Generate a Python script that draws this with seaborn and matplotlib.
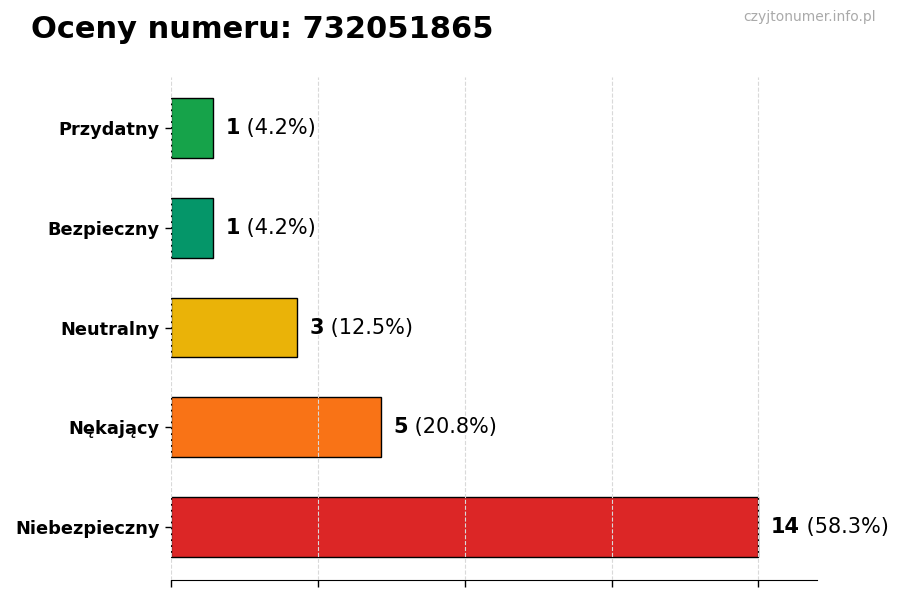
import matplotlib
matplotlib.use('Agg')
import matplotlib.pyplot as plt
import seaborn as sns
import pandas as pd

# Data
categories = ['Przydatny', 'Bezpieczny', 'Neutralny', 'Nękający', 'Niebezpieczny']
counts = [1, 1, 3, 5, 14]
colors = ['#16a34a', '#059669', '#eab308', '#f97316', '#dc2626']
title = 'Oceny numeru: 732051865'
watermark = 'czyjtonumer.info.pl'

sns.set_style('white')
plt.rcParams['font.family'] = ['DejaVu Sans']
plt.rcParams['text.color'] = 'black'
plt.rcParams['axes.labelcolor'] = 'black'
plt.rcParams['xtick.color'] = 'black'
plt.rcParams['ytick.color'] = 'black'

total = sum(counts)
df = pd.DataFrame({'category': categories, 'count': counts})

fig = plt.figure(figsize=(9, 6), dpi=100)
ax = fig.add_axes([0.19, 0.0333, 0.718, 0.8384])

sns.barplot(data=df, x='count', y='category', hue='category', palette=colors,
            orient='h', width=0.6, edgecolor='black', linewidth=1,
            saturation=1, legend=False, ax=ax)

max_val = max(counts)
ax.set_xlim(0, max_val * 1.1)
ax.set_ylim(len(categories) - 0.47, -0.51)
ax.set_xticks([max_val * i / 4 for i in range(5)])
ax.set_xticklabels([])
ax.tick_params(axis='x', length=5, width=1, color='black', bottom=True)
ax.tick_params(axis='y', length=4, width=1, color='black', left=True, pad=4)
for lbl in ax.get_yticklabels():
    lbl.set_fontweight('bold')
    lbl.set_fontsize(12.8)
    lbl.set_color('black')
ax.set_xlabel('')
ax.set_ylabel('')

ax.grid(True, axis='x', linestyle='--', color='#d9d9d9', linewidth=0.8)
ax.set_axisbelow(False)
for side in ['top', 'right', 'left']:
    ax.spines[side].set_visible(False)
ax.spines['bottom'].set_color('black')

# Value labels: bold count followed by percentage
for i, val in enumerate(counts):
    t = ax.text(val + max_val * 0.021, i, f'{val}', fontsize=15,
                fontweight='bold', va='center', ha='left', color='black')
    ax.annotate(f' ({val / total * 100:.1f}%)', xy=(1, 0.5), xycoords=t,
                fontsize=15, va='center', ha='left', color='black')

fig.text(0.034, 0.95, title, fontsize=22, fontweight='bold', va='center',
         ha='left', color='black')
fig.text(0.973, 0.971, watermark, fontsize=10, color='#aaaaaa', va='center', ha='right')

fig.savefig('out.png', dpi=100)
